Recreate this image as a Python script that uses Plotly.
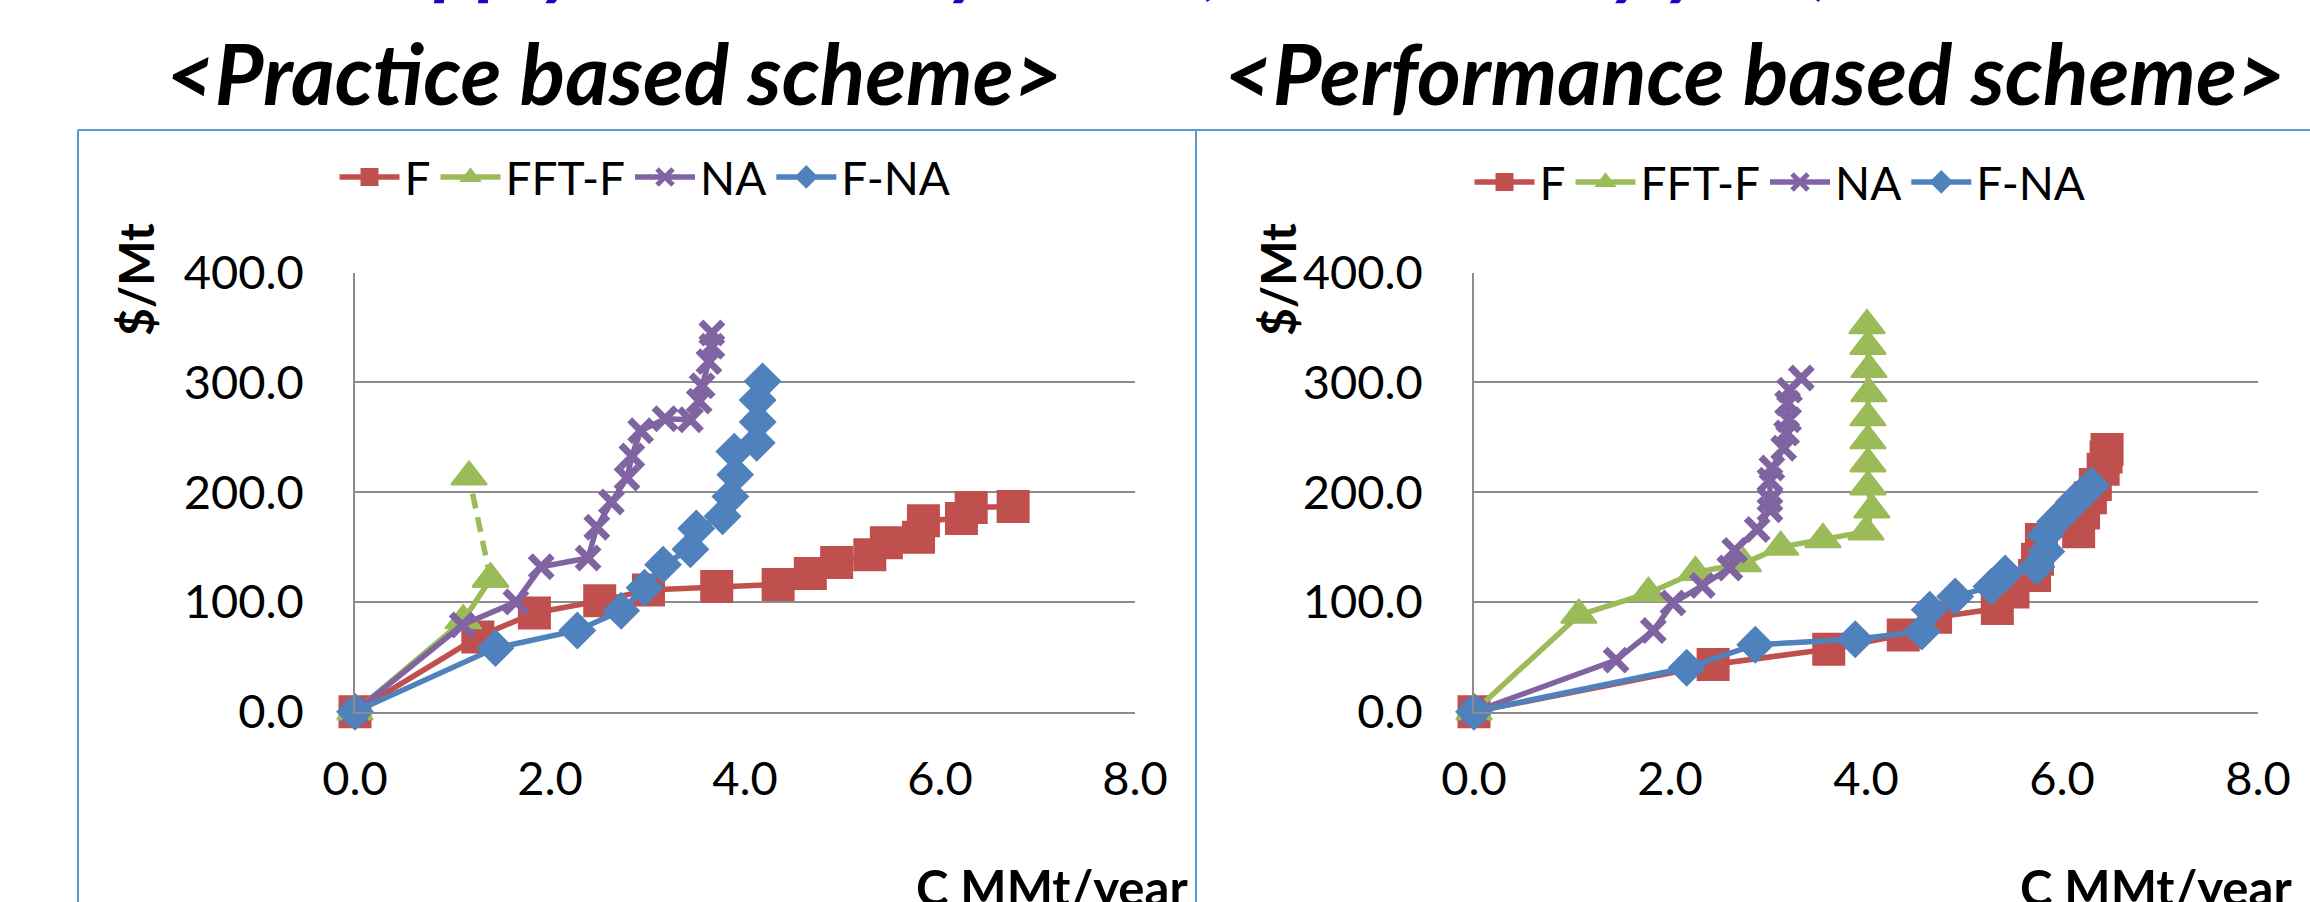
import plotly.graph_objects as go

W, H = 2310, 902

# ---------------- data ----------------
# Practice based scheme
p_F_x = [0, 1.26, 1.84, 2.51, 3.01, 3.71, 4.34, 4.67, 4.94, 5.28, 5.45, 5.78, 5.83, 6.22, 6.32, 6.75]
p_F_y = [0, 68, 90, 101, 111, 114, 116, 126, 136, 143, 154, 159, 174, 176, 186, 187]
p_FFT_x = [0, 1.11, 1.39, 1.17]
p_FFT_y = [0, 83, 121, 214]
p_NA_x = [0, 1.10, 1.65, 1.91, 2.39, 2.48, 2.63, 2.79, 2.84, 2.93, 3.18, 3.44, 3.53, 3.56, 3.63, 3.66, 3.66]
p_NA_y = [0, 79, 100, 132, 140, 168, 191, 213, 233, 256, 267, 266, 283, 297, 319, 333, 345]
p_FNA_x = [0, 1.44, 2.28, 2.73, 2.97, 3.16, 3.44, 3.50, 3.77, 3.85, 3.90, 3.89, 4.12, 4.13, 4.13, 4.18]
p_FNA_y = [0, 58, 74, 92, 113, 134, 148, 167, 178, 196, 216, 237, 245, 264, 284, 301]

# Performance based scheme
f_F_x = [0, 2.44, 3.62, 4.38, 4.71, 5.34, 5.50, 5.72, 5.75, 5.79, 6.17, 6.22, 6.29, 6.34, 6.42, 6.45, 6.46]
f_F_y = [0, 43, 57, 70, 86, 94, 109, 124, 139, 157, 164, 181, 195, 207, 221, 232, 239]
f_FFT_x = [0, 1.07, 1.78, 2.26, 2.75, 3.13, 3.56, 4.00, 4.06, 4.02, 4.02, 4.02, 4.02, 4.03, 4.03, 4.02, 4.01]
f_FFT_y = [0, 88, 108, 127, 135, 150, 157, 164, 184, 205, 226, 247, 268, 290, 312, 333, 352]
f_NA_x = [0, 1.45, 1.83, 2.03, 2.33, 2.61, 2.66, 2.89, 3.02, 3.02, 3.02, 3.04, 3.16, 3.19, 3.21, 3.20, 3.22, 3.34]
f_NA_y = [0, 47, 74, 99, 115, 131, 147, 166, 184, 193, 211, 222, 240, 254, 266, 281, 293, 304]
f_FNA_x = [0, 2.17, 2.87, 3.89, 4.57, 4.65, 4.91, 5.28, 5.42, 5.74, 5.84, 5.83, 5.93, 6.02, 6.12, 6.22, 6.30]
f_FNA_y = [0, 40, 61, 66, 73, 93, 105, 114, 126, 132, 146, 161, 173, 181, 191, 199, 206]

series_names = ["F", "FFT-F", "NA", "F-NA"]
x_ticks = [0, 2, 4, 6, 8]
y_ticks = [0, 100, 200, 300, 400]
chart_titles = ["&lt;Practice based scheme&gt;", "&lt;Performance based scheme&gt;"]
top_title = "Supply function by state (Total cost by year)"
y_title = "$/Mt"
x_title = "C MMt/year"

# ---------------- styles ----------------
COLORS = {"F": "#C0504D", "FFT-F": "#9BBB59", "NA": "#8064A2", "F-NA": "#4F81BD"}
SYMB = {"F": "square", "FFT-F": "triangle-up", "NA": "x-thin", "F-NA": "diamond"}
SIZE = {"F": 31, "FFT-F": 31, "NA": 22, "F-NA": 27}
FONT = "Lato, 'Open Sans', sans-serif"
GRID = "#8C8C8C"
LW = 5.5


def marker(name):
    c = COLORS[name]
    if name == "NA":
        return dict(symbol=SYMB[name], size=SIZE[name], color=c, line=dict(color=c, width=7))
    return dict(symbol=SYMB[name], size=SIZE[name], color=c, line=dict(color=c, width=2))


fig = go.Figure()

datasets = [
    ("x", "y", "legend", [(p_F_x, p_F_y), (p_FFT_x, p_FFT_y), (p_NA_x, p_NA_y), (p_FNA_x, p_FNA_y)]),
    ("x2", "y2", "legend2", [(f_F_x, f_F_y), (f_FFT_x, f_FFT_y), (f_NA_x, f_NA_y), (f_FNA_x, f_FNA_y)]),
]

for xa, ya, leg, sets in datasets:
    for name, (xs, ys) in zip(series_names, sets):
        c = COLORS[name]
        if xa == "x" and name == "FFT-F":
            # solid part, then dashed last segment
            fig.add_trace(go.Scatter(x=xs[:3], y=ys[:3], mode="lines+markers", name=name,
                                     line=dict(color=c, width=LW), marker=marker(name),
                                     xaxis=xa, yaxis=ya, legend=leg, cliponaxis=False))
            fig.add_trace(go.Scatter(x=xs[2:], y=ys[2:], mode="lines+markers", name=name,
                                     line=dict(color=c, width=LW, dash="15px,9px"), marker=marker(name),
                                     xaxis=xa, yaxis=ya, legend=leg, showlegend=False, cliponaxis=False))
        else:
            fig.add_trace(go.Scatter(x=xs, y=ys, mode="lines+markers", name=name,
                                     line=dict(color=c, width=LW), marker=marker(name),
                                     xaxis=xa, yaxis=ya, legend=leg, cliponaxis=False))

y_dom = [1 - 711.7 / H, 1 - 272.7 / H]
axis_common_x = dict(range=[0, 8], tickvals=x_ticks, tickformat=".1f", showgrid=False, zeroline=False,
                     showline=True, linecolor=GRID, linewidth=1.5, ticks="", automargin=False,
                     tickfont=dict(family=FONT, size=47, color="black"), ticklabelstandoff=25,
                     fixedrange=True)
axis_common_y = dict(range=[0, 400], tickvals=y_ticks, tickformat=".1f", showgrid=True, gridcolor=GRID,
                     gridwidth=1.5, zeroline=False, showline=True, linecolor=GRID, linewidth=1.5, ticks="",
                     automargin=False,
                     tickfont=dict(family=FONT, size=47, color="black"), ticklabelstandoff=40,
                     fixedrange=True)

legend_common = dict(orientation="h", xanchor="center", yanchor="middle", itemwidth=60,
                     font=dict(family=FONT, size=46, color="black"), bgcolor="rgba(0,0,0,0)")

fig.update_layout(
    width=W, height=H,
    margin=dict(l=0, r=0, t=0, b=0, pad=0, autoexpand=False),
    paper_bgcolor="white", plot_bgcolor="white",
    xaxis=dict(domain=[355 / W, 1135 / W], anchor="y", **axis_common_x),
    yaxis=dict(domain=y_dom, anchor="x", **axis_common_y),
    xaxis2=dict(domain=[1474 / W, 2258 / W], anchor="y2", **axis_common_x),
    yaxis2=dict(domain=y_dom, anchor="x2", **axis_common_y),
    legend=dict(x=645 / W, y=1 - 177 / H, **legend_common),
    legend2=dict(x=1780 / W, y=1 - 182 / H, **legend_common),
    showlegend=True,
)

border = "#5B9BD5"
fig.add_shape(type="line", xref="paper", yref="paper", x0=78 / W, x1=1.01, y0=1 - 130 / H, y1=1 - 130 / H,
              line=dict(color=border, width=2))
for xp in (78, 1196):
    fig.add_shape(type="line", xref="paper", yref="paper", x0=xp / W, x1=xp / W, y0=-0.01, y1=1 - 130 / H,
                  line=dict(color=border, width=2))

ann = []
# chart titles
for txt, cx in zip(chart_titles, (613.5, 1754.5)):
    ann.append(dict(text="<b><i>" + txt + "</i></b>", x=cx / W, y=1 - 72 / H, xref="paper", yref="paper",
                    xanchor="center", yanchor="middle", showarrow=False,
                    font=dict(family=FONT, size=84, color="black")))
# y-axis titles
for cx in (135, 1277):
    ann.append(dict(text="<b>" + y_title + "</b>", x=cx / W, y=1 - 280 / H, xref="paper", yref="paper",
                    xanchor="center", yanchor="middle", textangle=-90, showarrow=False,
                    font=dict(family=FONT, size=48, color="black")))
# x-axis titles
for rx in (1190, 2294):
    ann.append(dict(text="<b>" + x_title + "</b>", x=rx / W, y=1 - 856 / H, xref="paper", yref="paper",
                    xanchor="right", yanchor="top", showarrow=False,
                    font=dict(family=FONT, size=49, color="black")))
# top title (cut off by the top edge, as in the reference)
ann.append(dict(text="<b><i>" + top_title + "</i></b>", x=345 / W, y=1 - 8 / H, xref="paper", yref="paper",
                xanchor="left", yanchor="bottom", showarrow=False,
                font=dict(family=FONT, size=82, color="#2200C4")))
fig.update_layout(annotations=ann)

fig.write_html("out.html")
